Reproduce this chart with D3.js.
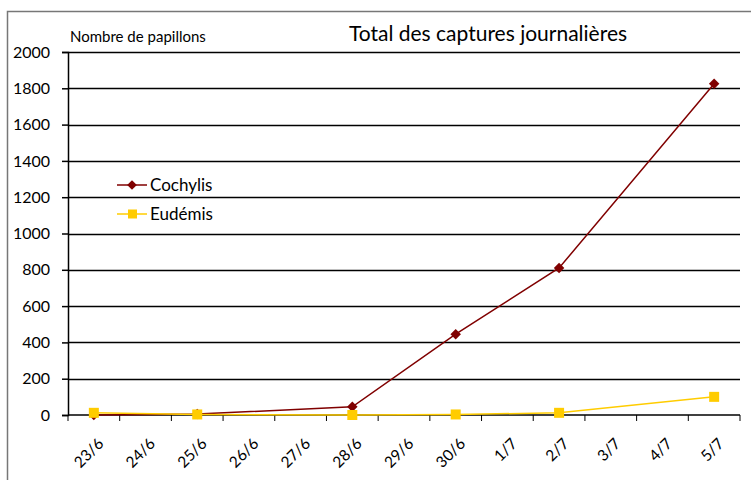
<!DOCTYPE html>
<html>
<head>
<meta charset="utf-8">
<script src="https://cdn.jsdelivr.net/npm/d3@7"></script>
<style>
  body { margin: 0; background: #fff; }
  svg { font-family: "Lato", "Open Sans", sans-serif; }
</style>
</head>
<body>
<div id="chart"></div>
<script>
// data
const days = ["23/6","24/6","25/6","26/6","27/6","28/6","29/6","30/6","1/7","2/7","3/7","4/7","5/7"];
const cochylisDays = ["23/6","25/6","28/6","30/6","2/7","5/7"];
const cochylisVals = [0, 5, 45, 445, 810, 1825];
const eudemisDays = ["23/6","25/6","28/6","30/6","2/7","5/7"];
const eudemisVals = [12, 3, 0, 3, 12, 100];
const yTicks = [0,200,400,600,800,1000,1200,1400,1600,1800,2000];

const width = 751, height = 480;
const margin = {left:68, right:11, top:52, bottom:65};

const svg = d3.select("#chart").append("svg")
    .attr("width", width).attr("height", height);

// outer frame
svg.append("path")
   .attr("d", "M7.5,480 V11.5 H751")
   .attr("fill", "none").attr("stroke", "#777").attr("stroke-width", 1.5);

const x = d3.scaleBand().domain(days).range([margin.left, width - margin.right]);
const y = d3.scaleLinear().domain([0, 2000]).range([height - margin.bottom, margin.top]);

// gridlines
svg.append("g").selectAll("line").data(yTicks.slice(1)).enter().append("line")
   .attr("x1", margin.left).attr("x2", width - margin.right)
   .attr("y1", d => Math.round(y(d)) + 0.5).attr("y2", d => Math.round(y(d)) + 0.5)
   .attr("stroke", "#000").attr("stroke-width", 1.3);

// y axis
const yAxis = svg.append("g")
   .attr("transform", "translate(" + margin.left + ",0)")
   .call(d3.axisLeft(y).tickValues(yTicks).tickFormat(d3.format("d")).tickSize(6).tickPadding(12));
yAxis.selectAll("path, line").attr("stroke", "#000").attr("stroke-width", 1.5);
yAxis.selectAll("text").attr("font-size", 16).attr("fill", "#000")
   .attr("font-family", "Lato, sans-serif");

// x axis with ticks between categories
const xg = svg.append("g").attr("transform", "translate(0," + y(0) + ")");
xg.append("line").attr("x1", margin.left).attr("x2", width - margin.right)
   .attr("stroke", "#000").attr("stroke-width", 1.5);
const bounds = days.map(d => x(d)).concat([x.range()[1]]);
xg.selectAll("line.tk").data(bounds).enter().append("line").attr("class", "tk")
   .attr("x1", d => d).attr("x2", d => d).attr("y1", 0).attr("y2", 6)
   .attr("stroke", "#000");
xg.selectAll("text").data(days).enter().append("text")
   .attr("transform", d => "translate(" + (x(d) + x.bandwidth() / 2 + 3) + ",22) rotate(-45)")
   .attr("text-anchor", "end").attr("dy", "0.7em")
   .attr("font-size", 15.5).attr("fill", "#000")
   .text(d => d);

const cx = d => x(d) + x.bandwidth() / 2;
const line = d3.line().x(d => cx(d[0])).y(d => y(d[1]));

const coch = cochylisDays.map((d, i) => [d, cochylisVals[i]]);
const eud = eudemisDays.map((d, i) => [d, eudemisVals[i]]);

svg.append("path").datum(coch).attr("d", line)
   .attr("fill", "none").attr("stroke", "#800000").attr("stroke-width", 1.5);
svg.append("g").selectAll("path").data(coch).enter().append("path")
   .attr("d", d3.symbol(d3.symbolDiamond2, 70))
   .attr("transform", d => "translate(" + cx(d[0]) + "," + y(d[1]) + ")")
   .attr("fill", "#800000");

svg.append("path").datum(eud).attr("d", line)
   .attr("fill", "none").attr("stroke", "#FFCC00").attr("stroke-width", 1.5);
svg.append("g").selectAll("rect").data(eud).enter().append("rect")
   .attr("x", d => cx(d[0]) - 5).attr("y", d => y(d[1]) - 5)
   .attr("width", 10).attr("height", 10)
   .attr("fill", "#FFCC00");

// legend
const legend = [["Cochylis", "#800000", "diamond", 185], ["Eudémis", "#FFCC00", "square", 214]];
legend.forEach(l => {
  const g = svg.append("g").attr("transform", "translate(0," + l[3] + ")");
  g.append("line").attr("x1", 117).attr("x2", 147).attr("stroke", l[1]).attr("stroke-width", 1.5);
  if (l[2] === "diamond") {
    g.append("path").attr("d", d3.symbol(d3.symbolDiamond2, 60)).attr("transform", "translate(132,0)").attr("fill", l[1]);
  } else {
    g.append("rect").attr("x", 128).attr("y", -4.5).attr("width", 9).attr("height", 9).attr("fill", l[1]);
  }
  g.append("text").attr("x", 150).attr("dy", "0.35em").attr("font-size", 17).text(l[0]);
});

// titles
svg.append("text").attr("x", 70).attr("y", 42).attr("font-size", 15).text("Nombre de papillons");
svg.append("text").attr("x", 488).attr("y", 41).attr("text-anchor", "middle")
   .attr("font-size", 21).text("Total des captures journalières");
</script>
</body>
</html>
